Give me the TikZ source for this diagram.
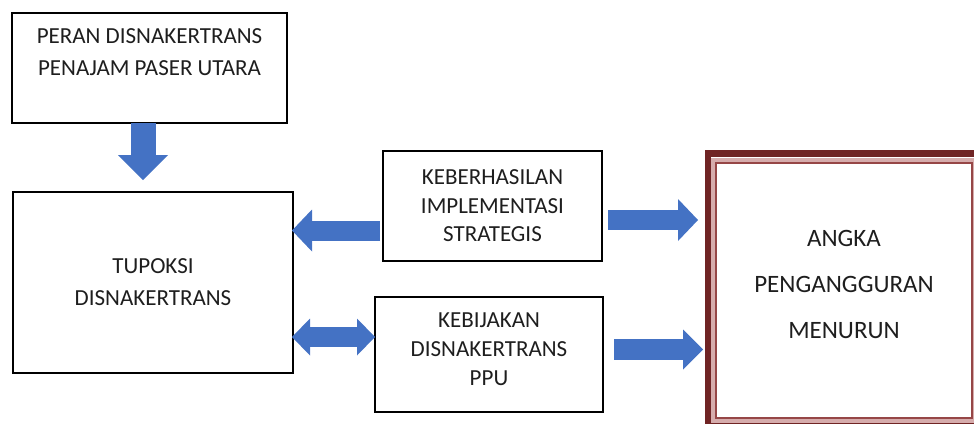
\documentclass[tikz,border=0pt]{standalone}
\usepackage{fontspec}
\setmainfont{Carlito}
\usetikzlibrary{arrows.meta}
\definecolor{arrowblue}{RGB}{68,114,196}
\definecolor{framered}{RGB}{112,36,36}
\definecolor{framepink}{RGB}{214,172,172}
\definecolor{framethin}{RGB}{150,70,70}
\definecolor{textgray}{RGB}{30,30,30}
\tikzset{
  box/.style={draw=black, line width=1.2pt, inner sep=0pt, outer sep=0pt, align=center, text=textgray},
  fat/.style n args={3}{draw=arrowblue, line width=#1, -{Triangle[length=#2 0 0, width=#3 0 0, line width=0pt 0 0]}},
  fatboth/.style n args={3}{draw=arrowblue, line width=#1, {Triangle[length=#2 0 0, width=#3 0 0, line width=0pt 0 0]}-{Triangle[length=#2 0 0, width=#3 0 0, line width=0pt 0 0]}},
}
\begin{document}
\begin{tikzpicture}[x=1pt,y=-1pt]
      \useasboundingbox (0,0) rectangle (974,423);
      \clip (0,0) rectangle (974,423);
      \node[box, minimum width=275pt, minimum height=110pt, font=\fontsize{23}{32}\selectfont] (P1) at (149.5,68) {PERAN DISNAKERTRANS\\PENAJAM PASER UTARA\\\mbox{}};
      \node[box, minimum width=280pt, minimum height=181pt, font=\fontsize{23}{32}\selectfont] (T1) at (153,282.5) {TUPOKSI\\DISNAKERTRANS};
      \node[box, minimum width=219pt, minimum height=110pt, font=\fontsize{23}{28.5}\selectfont] (K1) at (492.5,206) {KEBERHASILAN\\IMPLEMENTASI\\STRATEGIS};
      \node[box, minimum width=228pt, minimum height=115pt, font=\fontsize{23}{29}\selectfont] (K2) at (489,354.5) {KEBIJAKAN\\DISNAKERTRANS\\PPU\\[-19pt]\mbox{}};
      \node[box, draw=framethin, minimum width=256pt, minimum height=255pt, font=\fontsize{25}{46}\selectfont] (A1) at (844,290.5) {ANGKA\\PENGANGGURAN\\MENURUN\\[-34pt]\mbox{}};
      \draw[framepink, line width=4.5pt] ([xshift=-3pt,yshift=3.2pt]A1.north west) rectangle ([xshift=3pt,yshift=-3pt]A1.south east);
      \draw[framered, line width=6.5pt] ([xshift=-8pt,yshift=9.5pt]A1.north west) rectangle ([xshift=8pt,yshift=-8pt]A1.south east);
      \draw[fat={25pt}{25pt}{50pt}] ([xshift=-6.5pt]P1.south) -- ([xshift=-10pt,yshift=12pt]T1.north);
      \draw[fat={20pt}{20pt}{42pt}] ([xshift=-3pt,yshift=-24.5pt]K1.west) -- ([xshift=-1pt,yshift=52pt]T1.east);
      \draw[fatboth={20pt}{18pt}{37pt}] ([xshift=-1pt,yshift=-54.5pt]T1.east) -- ([yshift=17.5pt]K2.west);
      \draw[fat={20pt}{20pt}{42pt}] ([xshift=6pt,yshift=-14pt]K1.east) -- ([xshift=-18pt,yshift=70.5pt]A1.west);
      \draw[fat={21pt}{20pt}{40pt}] ([xshift=11pt,yshift=5pt]K2.east) -- ([xshift=-13pt,yshift=-59pt]A1.west);
\end{tikzpicture}
\end{document}
